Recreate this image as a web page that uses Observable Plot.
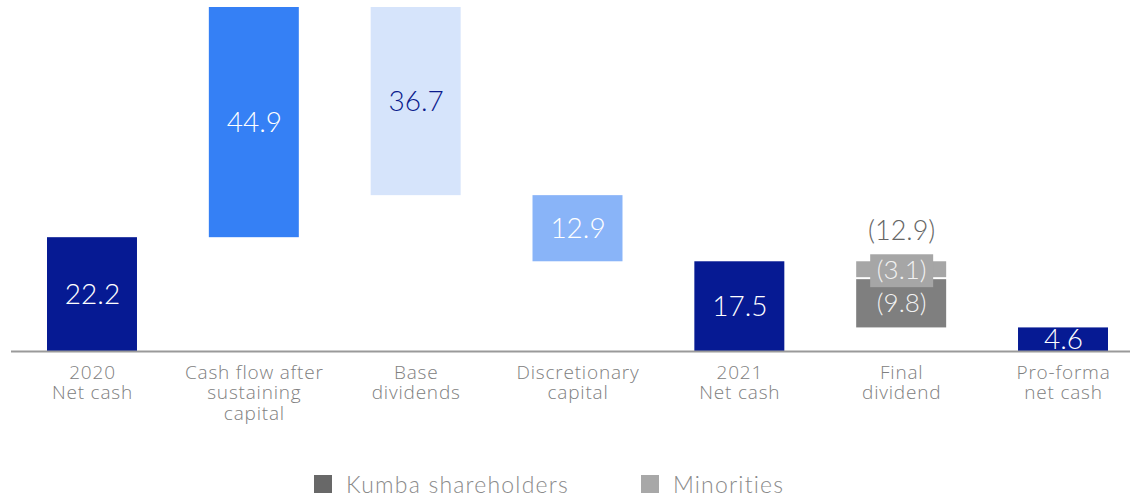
<!DOCTYPE html>
<html>
<head>
<meta charset="utf-8">
<script src="https://cdn.jsdelivr.net/npm/d3@7"></script>
<script src="https://cdn.jsdelivr.net/npm/@observablehq/plot@0.6"></script>
<style>
  html, body { margin: 0; padding: 0; background: #fff; }
  body { width: 1130px; height: 497px; overflow: hidden; font-family: Lato, "Open Sans", sans-serif; }
  #legend { display: flex; justify-content: flex-start; align-items: center; height: 30px; margin-top: 14px; padding-left: 314px; font-weight: 300; line-height: 30px; }
  .item { display: flex; align-items: center; font-size: 23px; letter-spacing: 1.2px; color: #8a8a8a; }
  .item:first-child { margin-right: 72px; }
  .sw { width: 18px; height: 18px; margin-right: 14px; }
  #chart svg g[aria-label="x-axis tick label"] text { letter-spacing: 0.8px; }
</style>
</head>
<body>
<div id="chart"></div>
<div id="legend"></div>
<script>
// ---- data ----
const categories = ["2020\nNet cash", "Cash flow after\nsustaining\ncapital", "Base\ndividends", "Discretionary\ncapital", "2021\nNet cash", "Final\ndividend", "Pro-forma\nnet cash"];
const kinds = ["total", "delta", "delta", "delta", "total", "split", "total"];
const values = [22.2, 44.9, -36.7, -12.9, 17.5, -12.9, 4.6];
const valueLabels = ["22.2", "44.9", "36.7", "12.9", "17.5", "(12.9)", "4.6"];
const barColors = ["#061a93", "#3580f5", "#d6e4fb", "#89b4f8", "#061a93", null, "#061a93"];
const labelColors = ["#ffffff", "#ffffff", "#0a1a8c", "#ffffff", "#ffffff", "#666666", "#ffffff"];
const splitSeries = ["Minorities", "Kumba shareholders"];
const splitValues = [3.1, 9.8];
const splitLabels = ["(3.1)", "(9.8)"];
const splitColors = ["#a6a6a6", "#7f7f7f"];
const legendLabels = ["Kumba shareholders", "Minorities"];
const legendColors = ["#686868", "#a8a8a8"];

// ---- build waterfall rows ----
const mainRows = [];
const splitRows = [];
let totalRow = null;
let running = 0;
categories.forEach((cat, i) => {
  if (kinds[i] === "total") {
    running = values[i];
    mainRows.push({cat, y1: 0, y2: values[i], fill: barColors[i], label: valueLabels[i], lc: labelColors[i]});
  } else if (kinds[i] === "delta") {
    const start = running;
    running = start + values[i];
    mainRows.push({cat, y1: start, y2: running, fill: barColors[i], label: valueLabels[i], lc: labelColors[i]});
  } else {
    let top = running;
    splitSeries.forEach((s, j) => {
      splitRows.push({cat, series: s, y1: top, y2: top - splitValues[j], fill: splitColors[j], label: splitLabels[j]});
      top -= splitValues[j];
    });
    totalRow = {cat, y: running, label: valueLabels[i], lc: labelColors[i]};
    running = running + values[i];
  }
});
const maxY = d3.max(mainRows, d => Math.max(d.y1, d.y2));
const minor = splitRows.filter(d => d.series === "Minorities");
const kumba = splitRows.filter(d => d.series === "Kumba shareholders");

const font = "Lato, 'Open Sans', sans-serif";
const chart = Plot.plot({
  width: 1130,
  height: 455,
  marginTop: 7,
  marginBottom: 104,
  marginLeft: 47,
  marginRight: 22,
  style: {fontFamily: font, color: "#808080", background: "#fff"},
  x: {domain: categories, paddingInner: 0.444, paddingOuter: 0, round: false, axis: null},
  y: {domain: [0, maxY], axis: null},
  color: {type: "identity"},
  marks: [
    Plot.barY(mainRows, {x: "cat", y1: "y1", y2: "y2", fill: "fill"}),
    Plot.barY(minor, {x: "cat", y1: "y1", y2: "y2", fill: "fill"}),
    Plot.barY(kumba, {x: "cat", y1: "y1", y2: "y2", fill: "fill", insetTop: 2}),
    Plot.barY(minor, {x: "cat", y1: "y1", y2: "y2", fill: "fill", insetTop: -7, insetBottom: -10, insetLeft: 14, insetRight: 13}),
    Plot.text(mainRows, {x: "cat", y: d => (d.y1 + d.y2) / 2, text: "label", fill: "lc", fontSize: 28, fontWeight: 300}),
    Plot.text(splitRows, {x: "cat", y: d => (d.y1 + d.y2) / 2, text: "label", fill: "#f2f2f2", fontSize: 26, fontWeight: 300, dy: 1}),
    Plot.text([totalRow], {x: "cat", y: "y", text: "label", fill: "lc", fontSize: 27, fontWeight: 300, dy: -30}),
    Plot.ruleY([0], {stroke: "#9a9a9a", strokeWidth: 2, insetLeft: -36, insetRight: -22}),
    Plot.axisX({tickSize: 0, tickPadding: 13, fontSize: 19, lineHeight: 1.07, fill: "#808080", fontWeight: 300, fontFamily: "'Open Sans', Lato, sans-serif", label: null})
  ]
});
document.getElementById("chart").appendChild(chart);

const legend = document.getElementById("legend");
legendLabels.forEach((lab, i) => {
  const it = document.createElement("div");
  it.className = "item";
  const sw = document.createElement("span");
  sw.className = "sw";
  sw.style.background = legendColors[i];
  const tx = document.createElement("span");
  tx.textContent = lab;
  it.appendChild(sw); it.appendChild(tx);
  legend.appendChild(it);
});
</script>
</body>
</html>
